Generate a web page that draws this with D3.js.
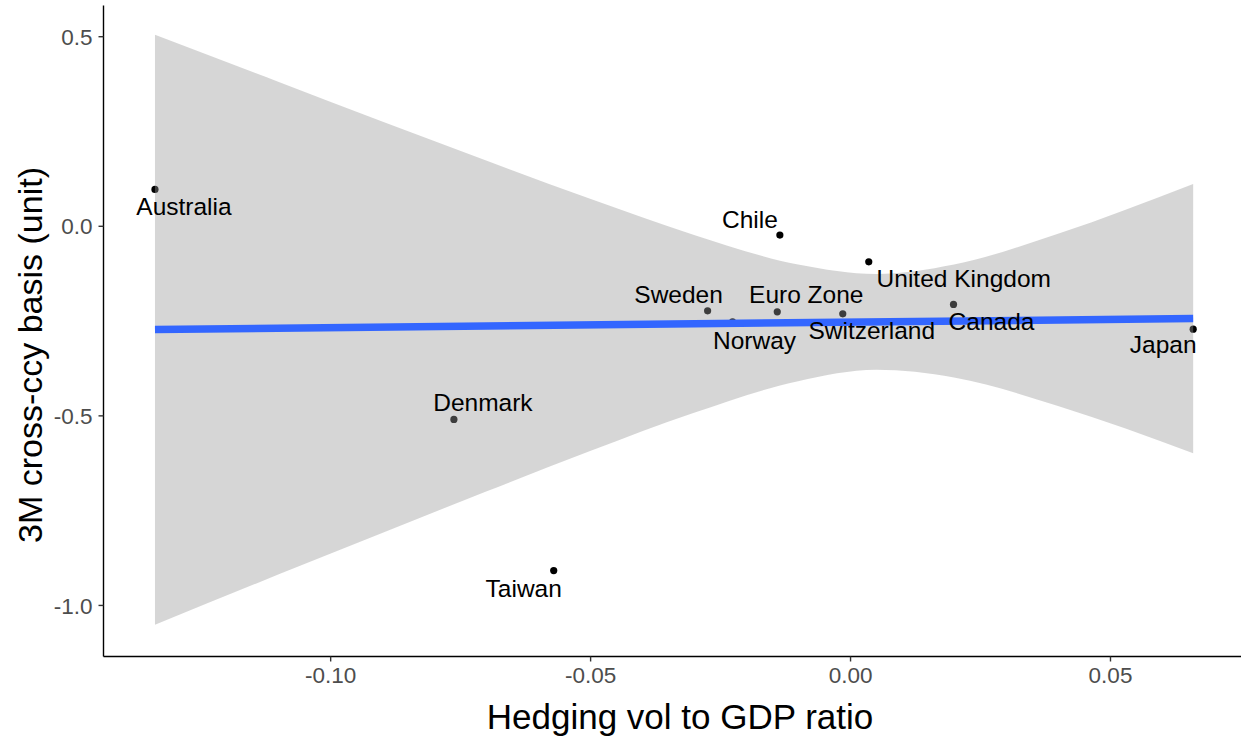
<!DOCTYPE html>
<html>
<head>
<meta charset="utf-8">
<script src="https://cdn.jsdelivr.net/npm/d3@7"></script>
<style>
  html, body { margin: 0; padding: 0; background: #ffffff; }
  svg { display: block; font-family: "Liberation Sans", Arial, Helvetica, sans-serif; }
</style>
</head>
<body>
<svg id="chart" width="1243" height="740"></svg>
<script>
// ---------------- data ----------------
const countries = ["Australia", "Chile", "United Kingdom", "Sweden", "Norway", "Euro Zone",
                   "Switzerland", "Canada", "Japan", "Denmark", "Taiwan"];
const hedgeRatio = [-0.1337, -0.0135, 0.0036, -0.0274, -0.0226, -0.0140,
                    -0.0014, 0.0199, 0.0660, -0.0762, -0.0570];
const ccyBasis = [0.096, -0.0245, -0.095, -0.2243, -0.2533, -0.2269,
                  -0.2322, -0.2074, -0.2726, -0.5108, -0.9093];

// fitted line (ends) and its confidence band
const fitX = [-0.1337, 0.0660];
const fitY = [-0.2736, -0.2446];
const bandX  = [-0.1337, -0.11, -0.09, -0.07, -0.05, -0.03, -0.01, 0.005, 0.02, 0.04, 0.066];
const bandHi = [0.504, 0.380, 0.275, 0.172, 0.071, -0.024, -0.102, -0.127, -0.102, -0.021, 0.110];
const bandLo = [-1.052, -0.920, -0.810, -0.701, -0.594, -0.493, -0.410, -0.380, -0.400, -0.475, -0.600];

const xTicks = [-0.10, -0.05, 0.00, 0.05];
const yTicks = [0.5, 0.0, -0.5, -1.0];
const xTitle = "Hedging vol to GDP ratio";
const yTitle = "3M cross-ccy basis (unit)";

// ---------------- layout ----------------
const W = 1243, H = 740;
const plot = { left: 103.5, right: 1241, top: 5.5, bottom: 656.5 };
const xDomain = [-0.1436, 0.0752];
const yDomain = [-1.136, 0.581];

// label placement (pixel offsets of text centre/baseline from the point)
const labelOffset = {
  "Australia": [29, 26], "Chile": [-30, -7], "United Kingdom": [95, 25],
  "Sweden": [-29, -8], "Norway": [22, 27], "Euro Zone": [29, -9],
  "Switzerland": [29, 25], "Canada": [38, 26], "Japan": [-30, 24],
  "Denmark": [29, -8], "Taiwan": [-30, 26]
};

const svg = d3.select("#chart");
const x = d3.scaleLinear().domain(xDomain).range([plot.left, plot.right]);
const y = d3.scaleLinear().domain(yDomain).range([plot.bottom, plot.top]);

const pts = countries.map((c, i) => ({ name: c, x: hedgeRatio[i], y: ccyBasis[i] }));

// points (drawn under the ribbon, as in the original)
svg.append("g").selectAll("circle").data(pts).join("circle")
  .attr("cx", d => x(d.x)).attr("cy", d => y(d.y)).attr("r", 3.6)
  .attr("fill", "#000000");

// confidence ribbon
const band = bandX.map((v, i) => ({ x: v, lo: bandLo[i], hi: bandHi[i] }));
svg.append("path").datum(band)
  .attr("d", d3.area().x(d => x(d.x)).y0(d => y(d.lo)).y1(d => y(d.hi)).curve(d3.curveMonotoneX))
  .attr("fill", "#999999").attr("fill-opacity", 0.4);

// fitted line
svg.append("path").datum(fitX.map((v, i) => ({ x: v, y: fitY[i] })))
  .attr("d", d3.line().x(d => x(d.x)).y(d => y(d.y)))
  .attr("stroke", "#3366FF").attr("stroke-width", 7.5).attr("fill", "none");

// labels
svg.append("g").selectAll("text").data(pts).join("text")
  .attr("x", d => x(d.x) + labelOffset[d.name][0])
  .attr("y", d => y(d.y) + labelOffset[d.name][1])
  .attr("text-anchor", "middle").attr("font-size", 24.5).attr("fill", "#000000")
  .text(d => d.name);

// axes
const xAxis = svg.append("g").attr("transform", `translate(0,${plot.bottom})`)
  .call(d3.axisBottom(x).tickValues(xTicks).tickFormat(d3.format(".2f")).tickSize(5).tickPadding(6));
const yAxis = svg.append("g").attr("transform", `translate(${plot.left},0)`)
  .call(d3.axisLeft(y).tickValues(yTicks).tickFormat(d3.format(".1f")).tickSize(5).tickPadding(6));

[xAxis, yAxis].forEach(g => {
  g.select(".domain").attr("stroke", "#000000").attr("stroke-width", 1.4);
  g.selectAll(".tick line").attr("stroke", "#333333").attr("stroke-width", 1.4);
  g.selectAll(".tick text").attr("fill", "#4D4D4D").attr("font-size", 22.5)
    .attr("font-family", "Liberation Sans, Arial, sans-serif");
});
// replace minus sign with hyphen like the original
svg.selectAll(".tick text").text(function() { return this.textContent.replace("−", "-"); });
xAxis.select(".domain").attr("d", `M${plot.left},0H${plot.right}`);
yAxis.select(".domain").attr("d", `M0,${plot.top}V${plot.bottom}`);
yAxis.selectAll(".tick text").attr("dy", "0.36em");

// titles
svg.append("text").attr("x", 680).attr("y", 729)
  .attr("text-anchor", "middle").attr("font-size", 35).attr("fill", "#000").text(xTitle);
svg.append("text").attr("transform", `translate(42,355) rotate(-90)`)
  .attr("text-anchor", "middle").attr("font-size", 34).attr("fill", "#000").text(yTitle);
</script>
</body>
</html>
